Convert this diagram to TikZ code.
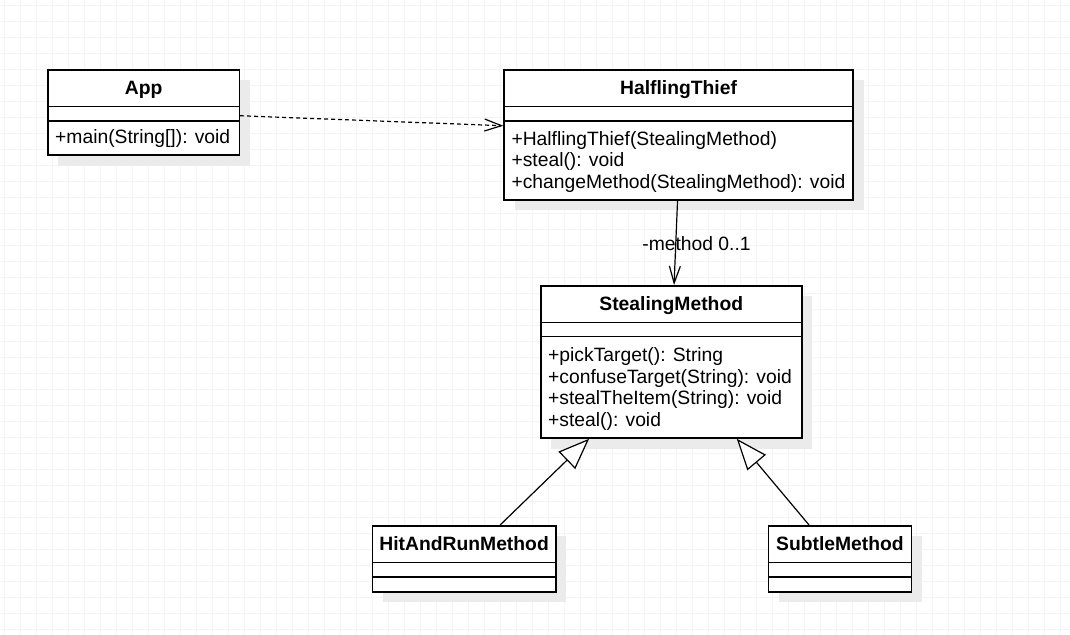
\documentclass[tikz,border=0pt]{standalone}
\usepackage{fontspec}
\setmainfont{Liberation Sans}
\usetikzlibrary{arrows.meta}
\usetikzlibrary{shadows}
\definecolor{gridgray}{RGB}{244,244,244}
\definecolor{shadegray}{RGB}{235,235,235}

\begin{document}
\begin{tikzpicture}[x=1pt, y=-1pt,
	cls/.style={draw, line width=1.5pt, fill=white, anchor=north west, inner sep=0pt,
		drop shadow={shadow xshift=10.5pt, shadow yshift=-10.5pt, fill=shadegray, opacity=1}},
	ttl/.style={anchor=base, inner sep=0pt, font=\fontsize{19.3}{21.7}\selectfont\bfseries},
	ops/.style={anchor=base west, inner sep=0pt, align=left, font=\fontsize{19.3}{21.7}\selectfont},
	cmp/.style={line width=1.5pt},
	conn/.style={line width=1.2pt}]
	\useasboundingbox (0,0) rectangle (1070,634);
	\clip (0,0) rectangle (1070,634);
	\draw[gridgray, line width=1pt, step=16pt, shift={(4.7,5.5)}] (-16,640) grid (1070,-16);

	\node[cls, minimum width=191.7pt, minimum height=85.3pt] (app) at (47,69) {};
	\node[ttl] (appname) at ([yshift=-25pt]app.north) {App};
	\draw[cmp] ([yshift=-37.3pt]app.north west) -- ([yshift=-37.3pt]app.north east);
	\draw[cmp] ([yshift=-52pt]app.north west) -- ([yshift=-52pt]app.north east);
	\node[ops] (appops) at ([xshift=8pt, yshift=-74.3pt]app.north west) {+main(String[]): void};

	\node[cls, minimum width=349pt, minimum height=130pt] (thief) at (503.3,69) {};
	\node[ttl] (thiefname) at ([yshift=-25pt]thief.north) {HalflingThief};
	\draw[cmp] ([yshift=-37.3pt]thief.north west) -- ([yshift=-37.3pt]thief.north east);
	\draw[cmp] ([yshift=-52pt]thief.north west) -- ([yshift=-52pt]thief.north east);
	\node[ops] (thiefops) at ([xshift=8pt, yshift=-119.5pt]thief.north west)
		{+HalflingThief(StealingMethod)\\+steal(): void\\+changeMethod(StealingMethod): void};

	\node[cls, minimum width=261pt, minimum height=152.3pt] (method) at (540,285) {};
	\node[ttl] (methodname) at ([yshift=-25pt]method.north) {StealingMethod};
	\draw[cmp] ([yshift=-37.3pt]method.north west) -- ([yshift=-37.3pt]method.north east);
	\draw[cmp] ([yshift=-51.7pt]method.north west) -- ([yshift=-51.7pt]method.north east);
	\node[ops] (methodops) at ([xshift=8pt, yshift=-141.5pt]method.north west)
		{+pickTarget(): String\\+confuseTarget(String): void\\+stealTheItem(String): void\\+steal(): void};

	\node[cls, minimum width=183.3pt, minimum height=66pt] (hit) at (371.7,525) {};
	\node[ttl] (hitname) at ([yshift=-25pt]hit.north) {HitAndRunMethod};
	\draw[cmp] ([yshift=-37.3pt]hit.north west) -- ([yshift=-37.3pt]hit.north east);
	\draw[cmp] ([yshift=-52pt]hit.north west) -- ([yshift=-52pt]hit.north east);

	\node[cls, minimum width=143pt, minimum height=66pt] (subtle) at (767.7,525) {};
	\node[ttl] (subtlename) at ([yshift=-25pt]subtle.north) {SubtleMethod};
	\draw[cmp] ([yshift=-37.3pt]subtle.north west) -- ([yshift=-37.3pt]subtle.north east);
	\draw[cmp] ([yshift=-52pt]subtle.north west) -- ([yshift=-52pt]subtle.north east);

	\draw[conn, dash pattern=on 4pt off 3pt, -{Straight Barb[length=17pt, width=12pt]}]
		([yshift=-3.35pt]app.east) -- ([yshift=9pt]thief.west);
	\draw[conn, -{Straight Barb[length=17pt, width=11pt]}]
		([xshift=-1pt]thief.south) -- ([xshift=2.8pt]method.north);
	\node[ops, anchor=base] (role) at (696.5,250) {-method 0..1};
	\draw[conn, -{Triangle[length=31pt, width=24pt, fill=white]}]
		([xshift=36pt]hit.north) -- ([xshift=-82.2pt]method.south);
	\draw[conn, -{Triangle[length=31pt, width=24pt, fill=white]}]
		([xshift=-30.9pt]subtle.north) -- ([xshift=65.5pt]method.south);
\end{tikzpicture}
\end{document}
